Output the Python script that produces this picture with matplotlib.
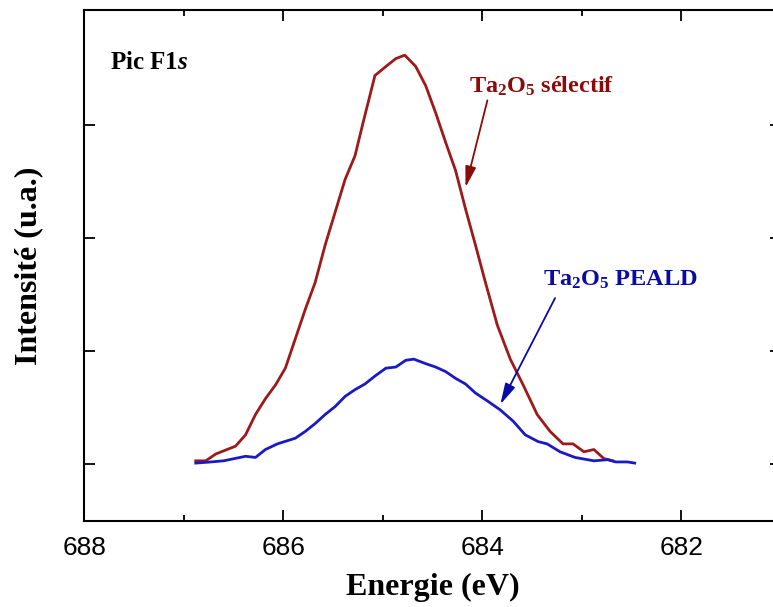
import matplotlib
matplotlib.use("Agg")
import matplotlib.pyplot as plt

# --- data ---
energy_sel = [686.88, 686.78, 686.68, 686.48, 686.38, 686.28, 686.18, 686.08, 685.98,
              685.88, 685.78, 685.68, 685.58, 685.48, 685.38, 685.28, 685.20, 685.08,
              684.97, 684.87, 684.78, 684.67, 684.57, 684.47, 684.37, 684.27, 684.17,
              684.07, 683.97, 683.85, 683.72, 683.59, 683.45, 683.32, 683.19, 683.09,
              682.98, 682.88, 682.78, 682.69]
intens_sel = [0.03, 0.03, 0.09, 0.16, 0.26, 0.44, 0.58, 0.70, 0.85,
              1.11, 1.37, 1.61, 1.94, 2.23, 2.52, 2.73, 3.02, 3.44,
              3.52, 3.59, 3.62, 3.52, 3.35, 3.11, 2.85, 2.60, 2.26,
              1.94, 1.61, 1.23, 0.93, 0.70, 0.44, 0.29, 0.18, 0.18,
              0.11, 0.13, 0.05, 0.03]

energy_peald = [686.88, 686.73, 686.60, 686.38, 686.28, 686.18, 686.06, 685.88, 685.78,
                685.68, 685.58, 685.48, 685.38, 685.28, 685.18, 685.08, 684.97, 684.87,
                684.77, 684.69, 684.57, 684.47, 684.37, 684.27, 684.17, 684.07, 683.95,
                683.82, 683.69, 683.57, 683.44, 683.35, 683.22, 683.07, 682.88, 682.74,
                682.66, 682.54, 682.47]
intens_peald = [0.01, 0.02, 0.03, 0.07, 0.06, 0.13, 0.18, 0.23, 0.29,
                0.36, 0.44, 0.51, 0.60, 0.66, 0.71, 0.78, 0.85, 0.86,
                0.92, 0.93, 0.89, 0.86, 0.82, 0.76, 0.71, 0.63, 0.56,
                0.48, 0.38, 0.26, 0.20, 0.18, 0.11, 0.06, 0.03, 0.04,
                0.02, 0.02, 0.01]

x_major = [688, 686, 684, 682]
x_minor = [687, 685, 683]
y_major = [0, 1, 2, 3]

label_sel = r"Ta$_{\mathrm{2}}$O$_{\mathrm{5}}$ sélectif"
label_peald = r"Ta$_{\mathrm{2}}$O$_{\mathrm{5}}$ PEALD"

plt.rcParams["mathtext.fontset"] = "custom"
plt.rcParams["mathtext.rm"] = "Liberation Serif:bold"
plt.rcParams["mathtext.bf"] = "Liberation Serif:bold"
plt.rcParams["mathtext.it"] = "Liberation Serif:bold:italic"

RED = "#9e1a1a"
BLUE = "#1a1ac4"
RED_TXT = "#8b0a0a"
BLUE_TXT = "#0a0aa8"

fig = plt.figure(figsize=(7.73, 6.07), dpi=100)
ax = fig.add_axes([84.3 / 773, (607 - 520.7) / 607, (781 - 84.3) / 773, (520.7 - 10) / 607])

ax.plot(energy_sel, intens_sel, color=RED, lw=2.0)
ax.plot(energy_peald, intens_peald, color=BLUE, lw=2.0)

ax.set_xlim(688, 681)
ax.set_ylim(-0.5, 4.02)
ax.set_xticks(x_major)
ax.set_xticks(x_minor, minor=True)
ax.set_yticks(y_major)
ax.set_yticklabels([])
ax.tick_params(axis="both", which="major", direction="in", length=8, width=1.3,
               top=True, right=True, labelsize=19)
ax.tick_params(axis="both", which="minor", direction="in", length=4.3, width=1.3,
               top=True, right=True)
ax.tick_params(axis="x", pad=11)
for lab in ax.get_xticklabels():
    lab.set_fontfamily("Liberation Sans")
for s in ax.spines.values():
    s.set_linewidth(1.5)

ax.set_xlabel("Energie (eV)", fontfamily="Liberation Serif", fontweight="bold",
              fontsize=23, labelpad=9)
ax.set_ylabel("Intensité (u.a.)", fontfamily="Liberation Serif", fontweight="bold",
              fontsize=23, labelpad=26)

ax.text(687.74, 3.50, r"Pic F$\mathit{1s}$", fontfamily="Liberation Serif",
        fontweight="bold", fontsize=18, ha="left", va="baseline")

ax.text(684.13, 3.29, label_sel, color=RED_TXT, fontfamily="Liberation Serif",
        fontweight="bold", fontsize=17.5, ha="left", va="baseline")
ax.annotate("", xy=(684.17, 2.45), xytext=(683.95, 3.22),
            arrowprops=dict(arrowstyle="-|>,head_length=0.7,head_width=0.18",
                            color=RED_TXT, lw=1.3,
                            mutation_scale=18, shrinkA=0, shrinkB=0))

ax.text(683.39, 1.58, label_peald, color=BLUE_TXT, fontfamily="Liberation Serif",
        fontweight="bold", fontsize=17.5, ha="left", va="baseline")
ax.annotate("", xy=(683.82, 0.53), xytext=(683.27, 1.47),
            arrowprops=dict(arrowstyle="-|>,head_length=0.7,head_width=0.18",
                            color=BLUE_TXT, lw=1.3,
                            mutation_scale=18, shrinkA=0, shrinkB=0))

fig.savefig("out.png", dpi=100)
